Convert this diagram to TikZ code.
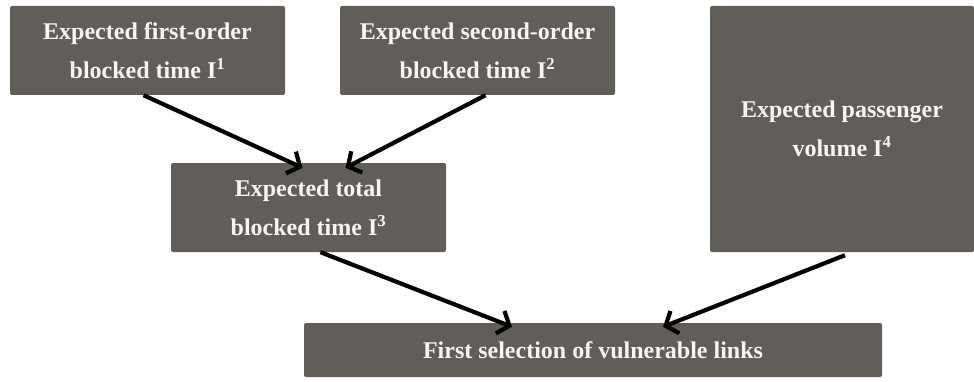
\documentclass[tikz,border=0pt]{standalone}
\usepackage{fontspec}
\setmainfont{Liberation Serif}
\usepackage{xcolor}
\usetikzlibrary{arrows.meta}
\definecolor{boxgray}{HTML}{615E5A}
\definecolor{txtwhite}{HTML}{F8F6F2}

\begin{document}
\begin{tikzpicture}[x = 1pt, y = 1pt,
	    blk/.style = {fill = boxgray, rounded corners = 2pt, inner sep = 0pt,
	        text = txtwhite, align = center,
	        font = \fontsize{24}{39}\selectfont\bfseries},
	    arr/.style = {line width = 4.2pt,
	        -{Straight Barb[length = 10pt, width = 24pt]}}]
	    \useasboundingbox (0,0) rectangle (974,381);
	    % indicators
	    \node[blk, minimum width = 275pt, minimum height = 89pt] (b_1) at (147.5,330.5)
	        {Expected first-order\\blocked time I\textsuperscript{1}};
	    \node[blk, minimum width = 275pt, minimum height = 89pt] (b_2) at (477.5,330.5)
	        {Expected second-order\\blocked time I\textsuperscript{2}};
	    \node[blk, minimum width = 275pt, minimum height = 89pt] (b_3) at (308.5,173.5)
	        {Expected total\\blocked time I\textsuperscript{3}};
	    \node[blk, minimum width = 264pt, minimum height = 246pt] (b_4) at (842,252)
	        {Expected passenger\\volume I\textsuperscript{4}};
	    \node[blk, minimum width = 578pt, minimum height = 54pt] (b_5) at (593,31)
	        {First selection of vulnerable links};
	    % arrows
	    \draw[arr] ([xshift = -4pt]b_1.south) -- ([xshift = -6pt, yshift = -5pt]b_3.north);
	    \draw[arr] ([xshift = 8pt]b_2.south) -- ([xshift = 37pt, yshift = -5pt]b_3.north);
	    \draw[arr] ([xshift = 12pt]b_3.south) -- ([xshift = -81pt, yshift = -4pt]b_5.north);
	    \draw[arr] ([xshift = 3pt, yshift = -3pt]b_4.south) -- ([xshift = 70pt, yshift = -4pt]b_5.north);
	\end{tikzpicture}
\end{document}
